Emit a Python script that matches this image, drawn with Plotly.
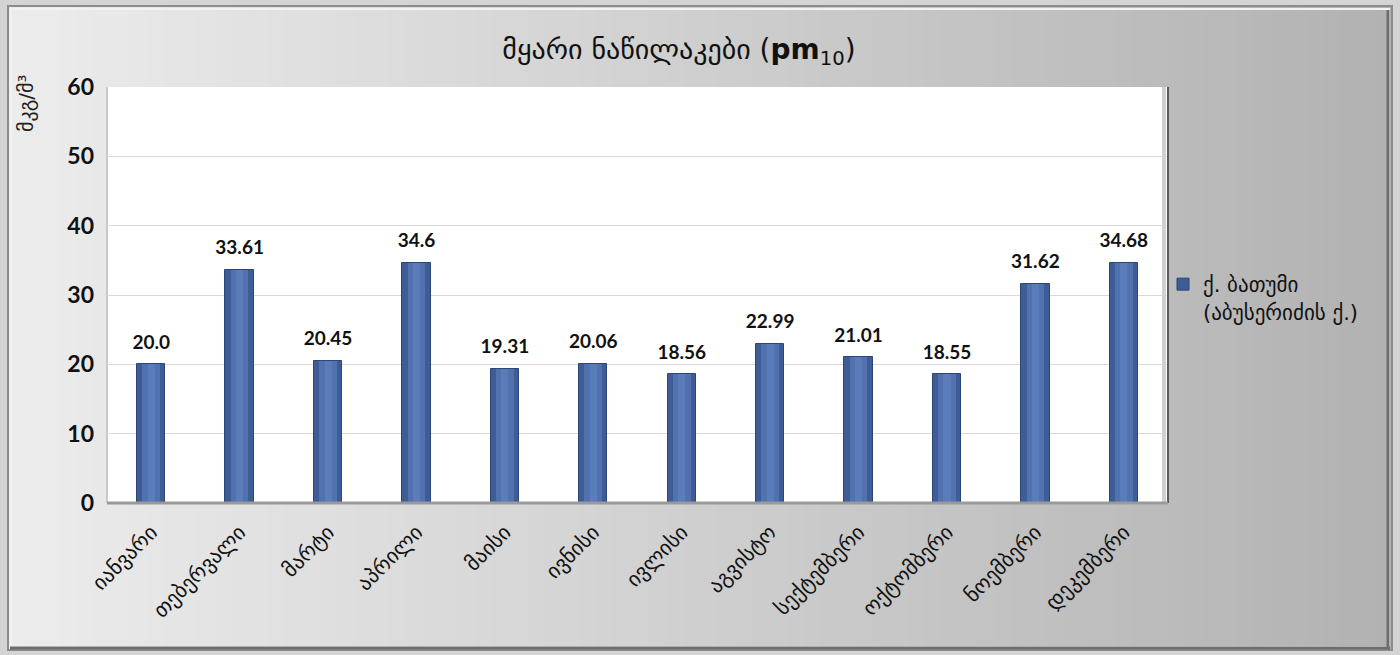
import plotly.graph_objects as go

# Monthly PM10 concentrations, Batumi (Abuseridze st.)
months = ["იანვარი", "თებერვალი", "მარტი", "აპრილი", "მაისი", "ივნისი",
          "ივლისი", "აგვისტო", "სექტემბერი", "ოქტომბერი", "ნოემბერი", "დეკემბერი"]
pm10 = [20.0, 33.61, 20.45, 34.6, 19.31, 20.06, 18.56, 22.99, 21.01, 18.55, 31.62, 34.68]
series_name = "ქ. ბათუმი<br>(აბუსერიძის ქ.)"
title_text = "მყარი ნაწილაკები (<b>pm</b><sub>10</sub>)"
unit_text = "მკგ/მ³"

W, H = 1400, 655
L, R, T, B = 107, 232, 87, 152
PW, PH = W - L - R, H - T - B


def px(x):
    return (x - L) / PW


def py(y):
    return (H - B - y) / PH


GEO = "DejaVu Sans"
NUM = "Lato, DejaVu Sans"

fig = go.Figure()

# bar body with a lighter centre strip for a rounded look
fig.add_trace(go.Bar(
    x=months, y=pm10, name=series_name, width=0.32,
    marker=dict(color="#3e5d96", line=dict(color="#2d4574", width=1)),
    hoverinfo="skip",
))
fig.add_trace(go.Bar(
    x=months, y=pm10, width=0.2, showlegend=False,
    marker=dict(color="#5172ae", line=dict(width=0)), hoverinfo="skip",
))
fig.add_trace(go.Bar(
    x=months, y=pm10, width=0.08, showlegend=False,
    marker=dict(color="#5a7cba", line=dict(width=0)), hoverinfo="skip",
))
# value labels above each bar
fig.add_trace(go.Scatter(
    x=months, y=pm10, mode="markers+text", showlegend=False,
    marker=dict(size=16, opacity=0), cliponaxis=False,
    text=[str(v) for v in pm10], textposition="top center",
    textfont=dict(family=NUM, size=19, color="#111111", weight="bold"),
    hoverinfo="skip",
))

shapes = []
# graded grey background
n = 80
x0, x1 = 8, 1392
for i in range(n):
    t = i / (n - 1)
    c = int(round(236 - t * (236 - 178)))
    xa = x0 + (x1 - x0) * i / n
    xb = x0 + (x1 - x0) * (i + 1) / n + 1
    shapes.append(dict(type="rect", xref="paper", yref="paper", layer="below",
                       x0=px(xa), x1=px(xb), y0=py(650), y1=py(6),
                       fillcolor=f"rgb({c},{c},{c})", line=dict(width=0)))
# white plot area
shapes.append(dict(type="rect", xref="paper", yref="paper", layer="below",
                   x0=0, x1=1, y0=0, y1=1, fillcolor="white", line=dict(width=0)))
# outer bevelled frame
shapes.append(dict(type="rect", xref="paper", yref="paper", layer="above",
                   x0=px(8), x1=px(1392), y0=py(650), y1=py(6),
                   line=dict(color="#8c8c8c", width=2)))
shapes.append(dict(type="rect", xref="paper", yref="paper", layer="above",
                   x0=px(11), x1=px(1389), y0=py(647), y1=py(9),
                   line=dict(color="#f2f2f2", width=2)))
shapes.append(dict(type="line", xref="paper", yref="paper", layer="above",
                   x0=px(1388), x1=px(1388), y0=py(648), y1=py(10),
                   line=dict(color="#6e6e6e", width=3)))
shapes.append(dict(type="line", xref="paper", yref="paper", layer="above",
                   x0=px(10), x1=px(1390), y0=py(648), y1=py(648),
                   line=dict(color="#6e6e6e", width=3)))
# plot area edges
shapes.append(dict(type="line", xref="paper", yref="paper", layer="above",
                   x0=1, x1=1, y0=0, y1=1, line=dict(color="#5a5a5a", width=2)))
shapes.append(dict(type="line", xref="paper", yref="paper", layer="above",
                   x0=px(1164), x1=px(1164), y0=0, y1=1, line=dict(color="#d0d0d0", width=4)))
shapes.append(dict(type="line", xref="paper", yref="paper", layer="above",
                   x0=0, x1=1, y0=0, y1=0, line=dict(color="#9a9a9a", width=3)))
shapes.append(dict(type="line", xref="paper", yref="paper", layer="below",
                   x0=0, x1=0, y0=0, y1=1, line=dict(color="#c8c8c8", width=2)))

fig.update_layout(
    width=W, height=H,
    margin=dict(l=L, r=R, t=T, b=B),
    paper_bgcolor="#d4d4d4", plot_bgcolor="rgba(0,0,0,0)",
    barmode="overlay", bargap=0,
    shapes=shapes,
    showlegend=True,
    legend=dict(x=px(1163), y=py(264), xanchor="left", yanchor="top",
                xref="paper", yref="paper", valign="top",
                bgcolor="rgba(0,0,0,0)", itemwidth=30,
                font=dict(family=GEO, size=21, color="#111111")),
    title=dict(text=title_text, x=px(679), y=1 - 49 / H, xanchor="center", yanchor="middle",
               xref="paper", yref="container",
               font=dict(family=GEO, size=28, color="#111111")),
    xaxis=dict(tickangle=-45, tickfont=dict(family=GEO, size=21, color="#111111"),
               ticklabelstandoff=12, range=[-0.5, len(months) - 0.5],
               showgrid=False, showline=False, ticks="", zeroline=False),
    yaxis=dict(range=[0, 60], dtick=10, showgrid=True, gridcolor="#d9d9d9", gridwidth=1,
               zeroline=False, showline=False, ticks="", ticklabelstandoff=12,
               tickfont=dict(family=NUM, size=23, color="#111111", weight="bold")),
    annotations=[dict(text=unit_text, xref="paper", yref="paper", x=px(26), y=py(104),
                      textangle=-90, showarrow=False, xanchor="center", yanchor="middle",
                      font=dict(family=GEO, size=20, color="#222222"))],
)

fig.write_html("out.html")
